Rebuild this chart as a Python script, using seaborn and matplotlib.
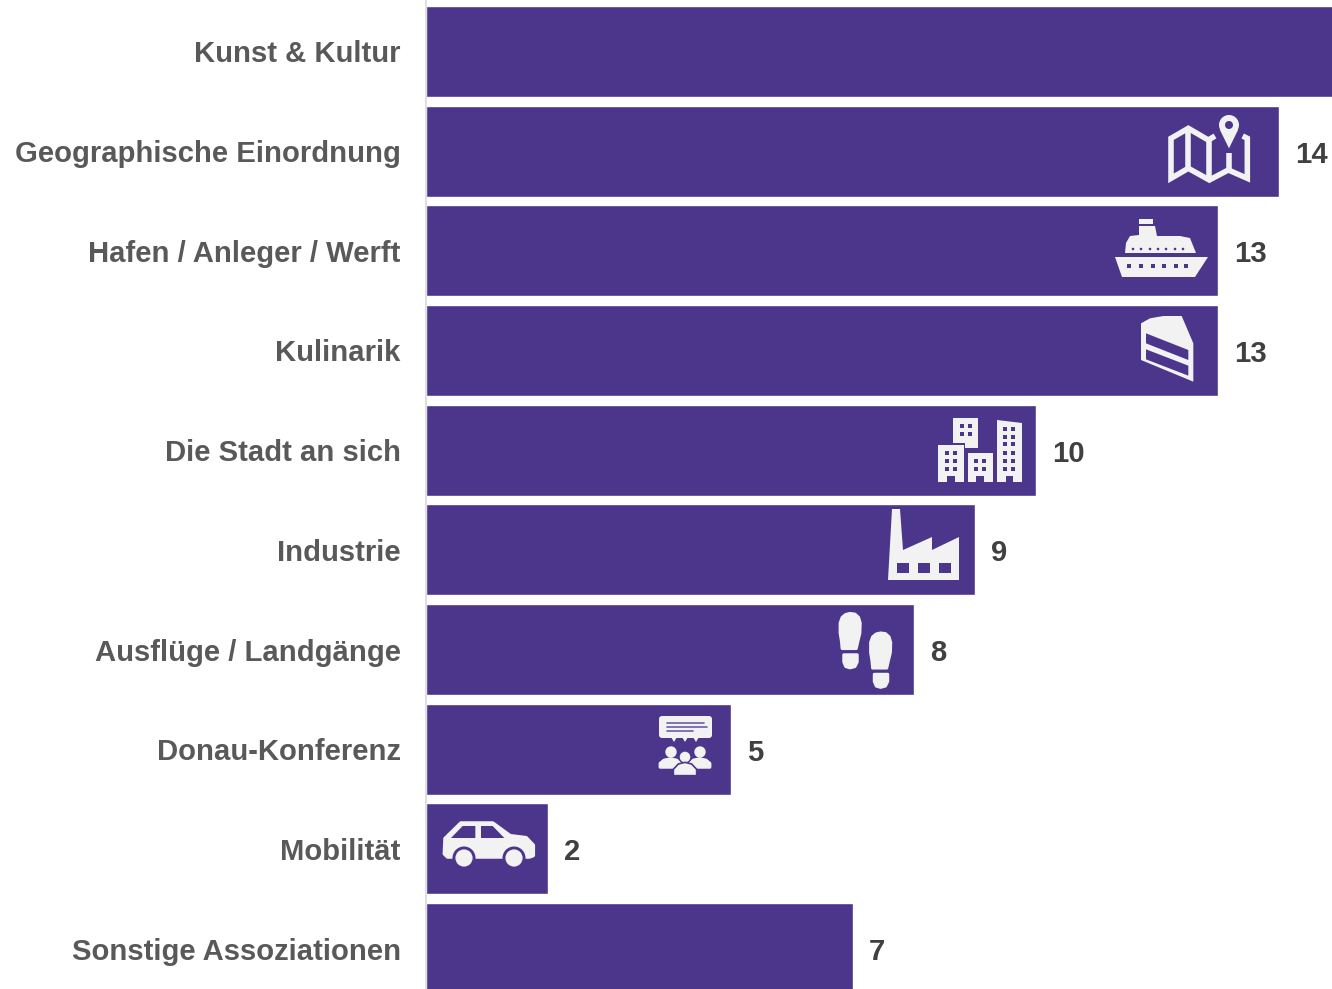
import matplotlib
matplotlib.use("Agg")
import matplotlib.pyplot as plt
from matplotlib.patches import Polygon, Circle, Rectangle, FancyBboxPatch
import pandas as pd
import seaborn as sns

# Chart data (first bar runs off the picture, its value is estimated and its label is not visible)
categories = ["Kunst & Kultur", "Geographische Einordnung", "Hafen / Anleger / Werft",
              "Kulinarik", "Die Stadt an sich", "Industrie", "Ausflüge / Landgänge",
              "Donau-Konferenz", "Mobilität", "Sonstige Assoziationen"]
values = [15, 14, 13, 13, 10, 9, 8, 5, 2, 7]
value_labels = ["", "14", "13", "13", "10", "9", "8", "5", "2", "7"]

PURPLE = "#4B368C"
ICON = "#F2F2F2"

sns.set_style("white")
plt.rcParams["font.family"] = ["Liberation Sans", "DejaVu Sans"]

df = pd.DataFrame({"category": categories, "value": values})

fig = plt.figure(figsize=(13.32, 9.89), dpi=100)
ax = fig.add_axes([426.4 / 1332, 0, 905.6 / 1332, 1])
sns.barplot(data=df, x="value", y="category", color=PURPLE, saturation=1, width=0.91, ax=ax)

ax.set_xlim(0, 905.6 / 60.93)
ax.set_ylim(9 + 40.5 / 99.67, -51.5 / 99.67)
ax.set_xlabel("")
ax.set_ylabel("")
ax.set_xticks([])
ax.tick_params(axis="y", length=0, pad=18.4)
for lab in ax.get_yticklabels():
    lab.set_fontsize(21.1)
    lab.set_fontweight("bold")
    lab.set_color("#595959")

for s in ["top", "right", "bottom"]:
    ax.spines[s].set_visible(False)
ax.spines["left"].set_color("#D9D9D9")
ax.spines["left"].set_linewidth(1.2)

for i, v in enumerate(values):
    if value_labels[i]:
        ax.annotate(value_labels[i], (v, i), xytext=(11.5, -2.6), textcoords="offset points",
                    va="center", ha="left", fontsize=21.1, fontweight="bold", color="#404040",
                    annotation_clip=False)

# Overlay in picture pixels for the little pictograms
ic = fig.add_axes([0, 0, 1, 1], facecolor="none")
ic.set_xlim(0, 1332)
ic.set_ylim(989, 0)
ic.axis("off")


def z(x0, y0, pts):
    return [(x0 + p[0] / 3, y0 + p[1] / 3) for p in pts]


def poly(pts, color=ICON, lw=0, edge=None):
    ic.add_patch(Polygon(pts, closed=True, facecolor=color, edgecolor=edge or color,
                         linewidth=lw, joinstyle="round"))


def rect(x0, y0, x1, y1, color=PURPLE):
    ic.add_patch(Rectangle((x0, y0), x1 - x0, y1 - y0, facecolor=color, edgecolor="none"))


def dot(x, y, r, color=ICON, edge="none", lw=0):
    ic.add_patch(Circle((x, y), r, facecolor=color, edgecolor=edge, linewidth=lw))


def line(pts, lw=4):
    xs = [p[0] for p in pts]
    ys = [p[1] for p in pts]
    ic.plot(xs, ys, color=ICON, lw=lw, solid_joinstyle="miter", solid_capstyle="butt")


# Map with pin
line(z(1160, 110, [(165, 78), (145, 90), (85, 55), (33, 85), (33, 205), (85, 175),
                   (148, 210), (205, 180), (262, 205), (262, 85), (248, 78)]))
line(z(1160, 110, [(85, 55), (85, 175)]))
line(z(1160, 110, [(148, 90), (148, 210)]))
line(z(1160, 110, [(208, 130), (208, 180)]))
dot(1229, 125, 10)
poly(z(1160, 110, [(180, 60), (234, 60), (207, 115)]))
dot(1229, 125, 4, PURPLE)

# Ship
poly([(1115, 257), (1208, 257), (1195, 277), (1122, 277)])
poly([(1125, 253), (1196, 253), (1190, 238), (1180, 236), (1157, 236), (1155, 226),
      (1139, 226), (1139, 235), (1130, 236), (1126, 243)])
rect(1139, 219, 1153, 224, ICON)
for x in [1129, 1141, 1153, 1164, 1176, 1186]:
    rect(x - 2, 264, x + 2, 268)
for x in [1133, 1141, 1150, 1158, 1166, 1175, 1183]:
    dot(x, 249, 1.3, PURPLE)

# Cake
poly(z(1130, 310, [(33, 40), (60, 25), (100, 18), (155, 18), (190, 100), (190, 215), (33, 150)]))
poly(z(1130, 310, [(48, 70), (175, 120), (175, 150), (48, 100)]), PURPLE)
poly(z(1130, 310, [(48, 118), (175, 167), (175, 197), (48, 148)]), PURPLE)

# City
poly([(953, 418), (978, 418), (978, 448), (965, 448), (965, 443), (953, 443)])
rect(938, 445, 964, 482, ICON)
rect(968, 453, 993, 482, ICON)
poly([(997, 420), (1022, 423), (1022, 482), (997, 482)])
for x in [962, 970]:
    for y in [426, 434]:
        rect(x - 2, y - 2, x + 2, y + 2)
for x in [947, 955]:
    for y in [453, 461, 469]:
        rect(x - 2, y - 2, x + 2, y + 2)
for x in [976, 984]:
    for y in [461, 469]:
        rect(x - 2, y - 2, x + 2, y + 2)
for x in [1005, 1013]:
    for y in [429, 437, 444, 453, 461, 469]:
        rect(x - 2, y - 2, x + 2, y + 2)
rect(947, 476, 955, 482)
rect(976, 476, 984, 482)
rect(1006, 476, 1013, 482)

# Factory
poly([(892, 509), (900, 509), (903, 550), (932, 537), (932, 550), (959, 537), (959, 580), (888, 580)])
rect(897, 563, 909, 573)
rect(918, 563, 930, 573)
rect(939, 563, 951, 573)

# Footprints
sole = [(60, 16), (75, 18), (86, 28), (91, 45), (90, 75), (84, 100), (79, 122), (36, 122), (34, 100),
        (30, 75), (30, 45), (36, 28), (47, 19)]
heel = [(41, 140), (82, 140), (82, 162), (75, 176), (60, 180), (47, 176), (41, 162)]
for dx, dy in [(0, 0), (30.5, 19.5)]:
    poly(z(830 + dx, 608 + dy, sole), lw=2)
    poly(z(830 + dx, 608 + dy, heel), lw=2)

# Conference
ic.add_patch(FancyBboxPatch((661, 718), 49, 18, boxstyle="round,pad=2,rounding_size=3",
                            facecolor=ICON, edgecolor="none"))
for x1, y in [(704, 723), (707, 727), (693, 731)]:
    ic.plot([667, x1], [y, y], color="#6F5BA8", lw=1.2)
for x in [674, 685, 696]:
    poly([(x - 3, 737), (x + 3, 737), (x, 742)])
dot(671, 752, 5.7)
dot(700, 752, 5.7)
poly(z(650, 710, [(30, 172), (30, 160), (42, 150), (62, 146), (80, 150), (92, 160), (78, 172)]), lw=2)
poly(z(650, 710, [(180, 172), (180, 160), (168, 150), (148, 146), (130, 150), (118, 160), (132, 172)]), lw=2)
dot(685, 757, 6, ICON, PURPLE, 1)
poly(z(650, 710, [(70, 197), (70, 178), (85, 162), (105, 157), (125, 162), (140, 178), (140, 197)]),
     lw=1.2, edge=PURPLE)

# Car
poly(z(436, 812, [(28, 80), (75, 34), (170, 34), (222, 72), (270, 78), (291, 100), (291, 130),
                  (280, 134), (35, 134), (26, 125)]), lw=3)
poly(z(436, 812, [(45, 78), (80, 42), (118, 42), (118, 78)]), PURPLE)
poly(z(436, 812, [(135, 42), (170, 42), (205, 78), (135, 78)]), PURPLE)
for x in [464, 514]:
    dot(x, 858, 11.5, PURPLE)
    dot(x, 858, 8.6)

fig.savefig("out.png", dpi=100)
